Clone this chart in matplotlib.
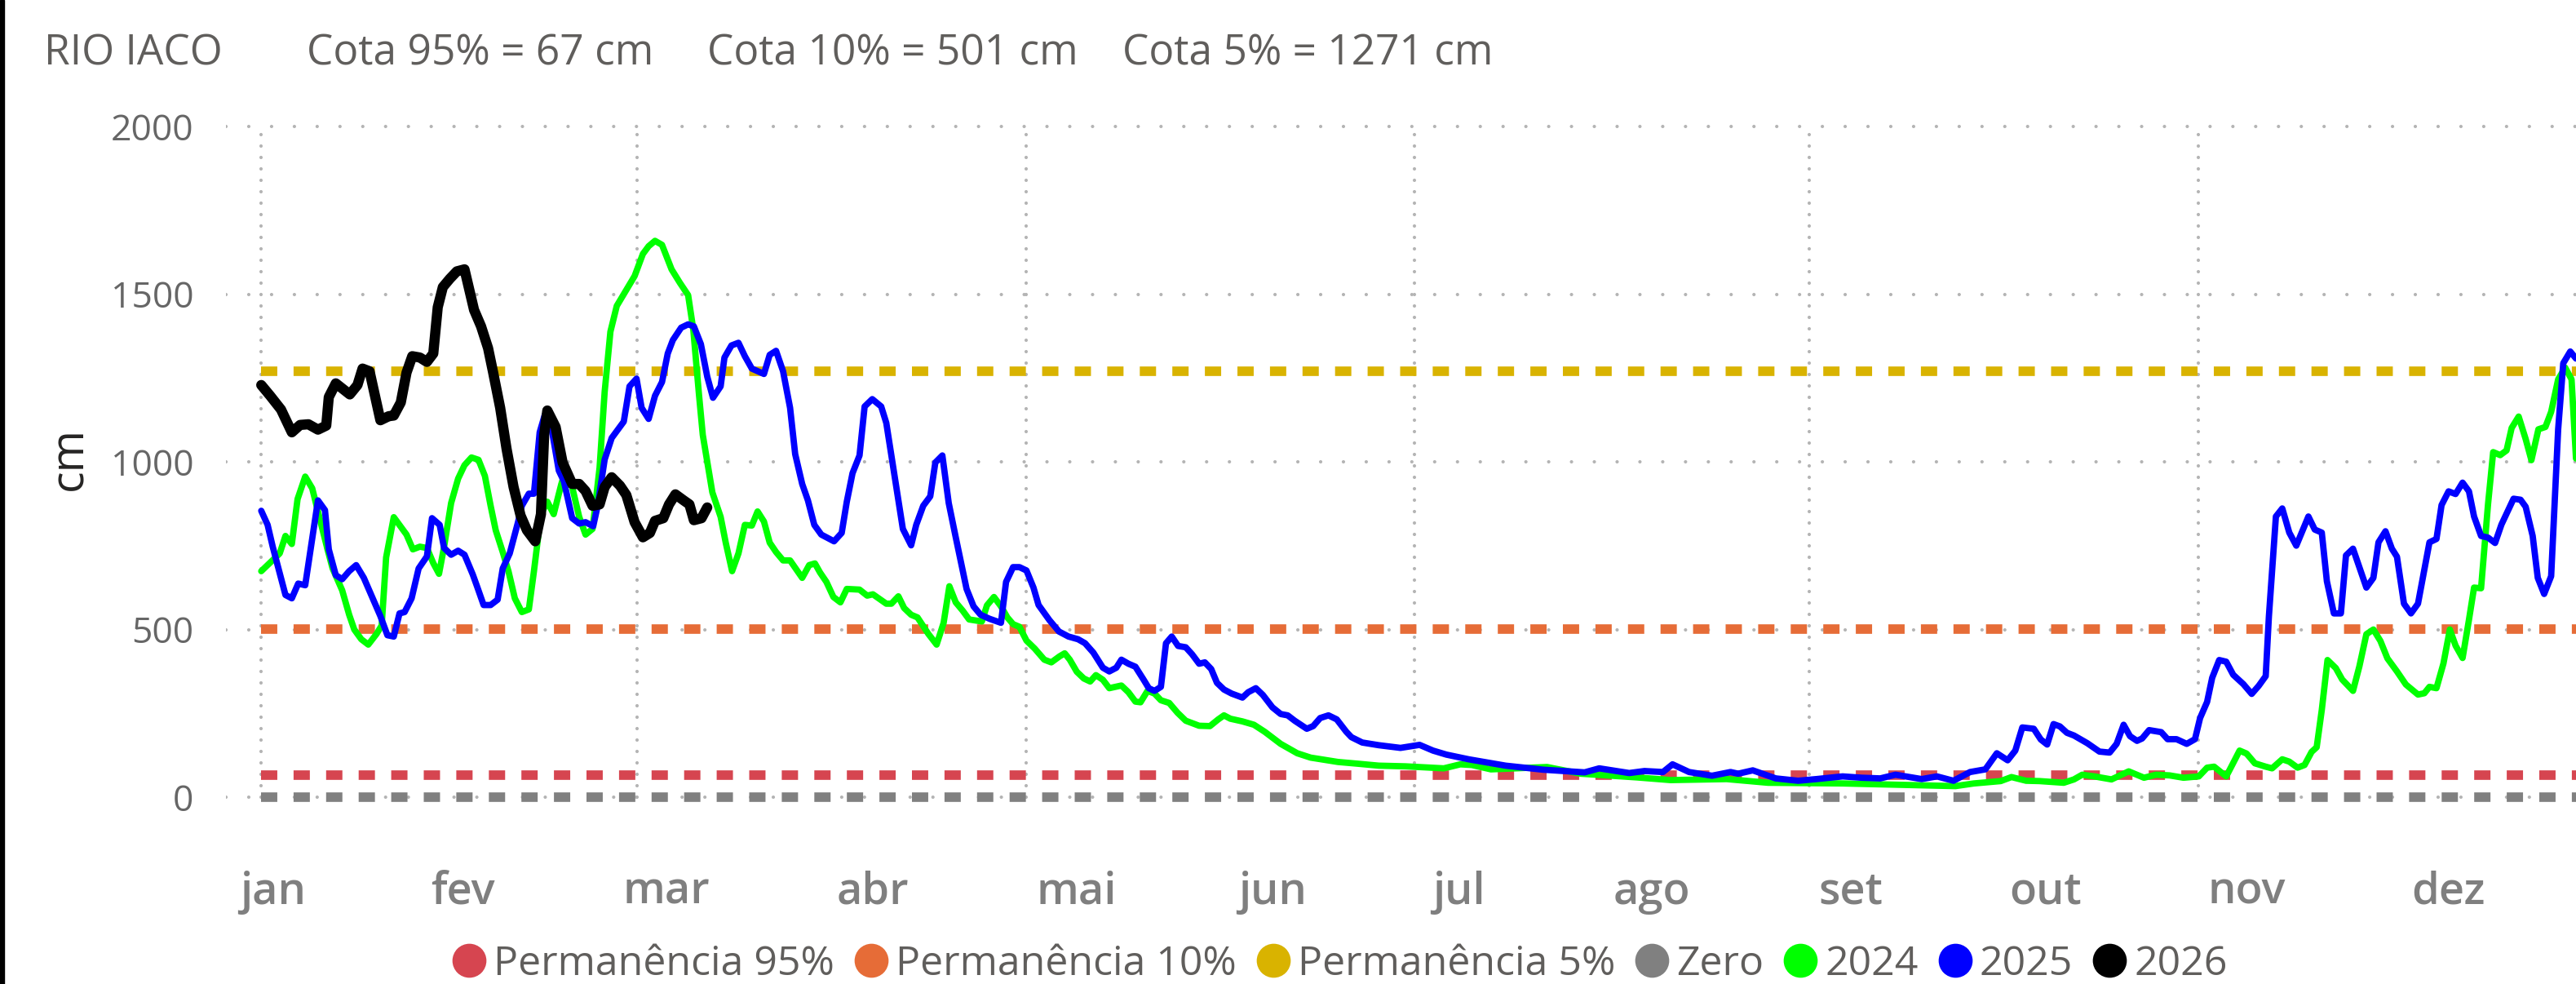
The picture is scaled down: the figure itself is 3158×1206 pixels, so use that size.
"""
Cota diaria do Rio Iaco - 2024, 2025 e 2026 com as cotas de permanencia.
Saida: out.png
"""

import matplotlib
matplotlib.use("Agg")
import matplotlib.pyplot as plt
from matplotlib import rcParams
from matplotlib.lines import Line2D
from matplotlib.patches import Rectangle

# ── Style ─────────────────────────────────────────────────────────────────────
rcParams.update({
    "font.family":      ["Open Sans", "DejaVu Sans"],
    "axes.spines.top":    False,
    "axes.spines.right":  False,
    "axes.spines.left":   False,
    "axes.spines.bottom": False,
    "figure.dpi":       100,
    "savefig.dpi":      100,
})

C_P95   = "#D64550"
C_P10   = "#E66C37"
C_P5    = "#D9B300"
C_ZERO  = "#808080"
C_2024  = "#00FF00"
C_2025  = "#0000FF"
C_2026  = "#000000"
C_GRID  = "#B4B4B4"
C_TEXT  = "#605E5C"

# ── Data ──────────────────────────────────────────────────────────────────────
STATION = "RIO IACO"
COTA_95 = 67
COTA_10 = 501
COTA_5  = 1271

MONTHS    = ["jan", "fev", "mar", "abr", "mai", "jun",
             "jul", "ago", "set", "out", "nov", "dez"]
MONTH_POS = [1.9, 31.7, 63.6, 96.0, 127.9, 158.7,
             188.0, 218.3, 249.4, 280.0, 311.6, 343.3]
GRID_DAYS = [0, 59, 120, 181, 243, 304]
Y_TICKS   = [0, 500, 1000, 1500, 2000]

# day of year (0 = 1 jan), cota in cm
DAYS_2024 = [0, 2.9, 3.8, 4.8, 5.7, 6.9, 8.0, 8.9, 10.4, 11.2, 12.7, 13.8, 14.6,
             15.7, 16.8, 18.1, 18.9, 19.6, 20.8, 22.8, 23.8, 24.9, 26.0, 27.0,
             27.9, 28.7, 29.8, 30.9, 31.9, 33.0, 34.1, 35.1, 36.0, 36.8, 37.9,
             38.8, 39.8, 40.9, 42.0, 42.8, 43.9, 44.9, 45.9, 47.1, 47.9, 48.8,
             49.9, 50.9, 52.0, 53.1, 53.9, 54.8, 55.8, 58.6, 59.9, 60.8, 61.8,
             62.9, 64.4, 65.7, 67.0, 67.8, 68.7, 69.3, 70.0, 70.8, 72.1, 72.9,
             73.9, 74.9, 75.9, 77.0, 77.9, 78.9, 79.8, 80.8, 81.9, 83.0, 84.9,
             86.0, 86.9, 87.7, 88.7, 89.8, 90.9, 91.9, 93.9, 95.1, 96.0, 98.1,
             98.9, 100.0, 100.9, 102.0, 103.0, 104.7, 106.0, 107.1, 108.0,
             109.0, 110.1, 111.1, 113.1, 113.9, 115.0, 116.1, 117.1, 118.0,
             119.0, 120.1, 121.4, 122.9, 124.0, 125.3, 126.1, 126.9, 128.0,
             129.1, 130.1, 131.0, 132.1, 133.1, 135.0, 136.1, 137.2, 138.0,
             139.1, 140.2, 141.2, 142.5, 143.8, 145.1, 147.2, 148.9, 150.2,
             151.1, 152.1, 154.0, 155.8, 157.5, 160.0, 162.6, 164.7, 169.0,
             172.0, 175.4, 179.6, 185.6, 188.2, 190.0, 193.0, 201.8, 207.1,
             215.9, 221.2, 230.0, 236.5, 248.2, 257.1, 265.9, 268.8, 273.0,
             274.7, 277.0, 279.1, 282.9, 284.5, 285.8, 287.7, 290.4, 293.1,
             295.5, 297.4, 299.5, 301.7, 304.1, 305.4, 306.5, 308.4, 309.2,
             310.5, 311.6, 312.9, 314.6, 315.6, 317.2, 318.3, 319.6, 320.7,
             321.8, 322.6, 323.4, 324.3, 325.6, 326.6, 328.3, 329.3, 330.4,
             331.5, 332.6, 333.7, 335.2, 336.6, 338.5, 339.5, 340.3, 341.4,
             342.5, 343.5, 344.4, 345.5, 346.5, 347.3, 348.4, 349.5, 350.3,
             351.4, 352.4, 353.2, 354.3, 355.4, 356.3, 357.4, 358.5, 359.4,
             360.5, 361.6, 362.6, 363.3]
CM_2024   = [674, 727, 779, 755, 889, 956, 921, 852, 739, 682, 617, 544, 500,
             471, 455, 487, 512, 715, 835, 783, 739, 747, 743, 698,
             666, 747, 877, 950, 990, 1013, 1006, 958, 869, 796, 731,
             674, 593, 552, 560, 674, 844, 881, 844, 934, 982, 925,
             836, 783, 800, 982, 1209, 1388, 1465, 1554, 1620, 1643, 1659,
             1647, 1574, 1534, 1497, 1396, 1201, 1080, 1000, 909, 836, 759,
             674, 727, 812, 810, 852, 822, 759, 731, 706, 706, 654,
             692, 697, 670, 642, 597, 581, 621, 619, 601, 605, 577,
             577, 599, 564, 544, 536, 487, 455, 520, 629,
             581, 556, 530, 524, 572, 597, 569, 536, 516,
             508, 467, 443, 410, 402, 420, 429, 410, 374,
             354, 345, 364, 350, 325, 333, 313, 285, 283,
             317, 309, 289, 281, 252, 228, 213, 212, 232,
             244, 234, 226, 216, 195, 159, 131, 118, 105,
             100, 94, 92, 86, 98, 96, 83, 90, 70,
             59, 51, 54, 43, 41, 37, 33, 41, 48,
             60, 49, 48, 43, 53, 67, 62, 53, 77,
             58, 67, 65, 58, 62, 88, 91, 62, 91,
             139, 130, 101, 91, 86, 113, 106, 88, 96,
             135, 149, 260, 409, 385, 351, 317, 390, 486,
             500, 466, 414, 375, 336, 306, 310, 329, 325,
             399, 500, 452, 415, 529, 625, 623, 875, 1029,
             1020, 1034, 1101, 1135, 1068, 1005, 1097, 1104, 1149,
             1246, 1281, 1246, 1010]

DAYS_2025 = [0, 1.0, 1.8, 3.8, 4.8, 5.8, 6.9, 8.0, 8.9, 10.0, 10.6, 11.7, 12.7,
             13.8, 14.9, 16.1, 17.4, 18.7, 19.8, 20.8, 21.7, 22.5, 23.6, 24.7,
             26.0, 26.8, 28.0, 28.7, 29.8, 30.9, 31.9, 33.2, 33.9, 34.9, 36.0,
             37.1, 37.9, 39.0, 40.3, 40.9, 42.0, 42.8, 43.7, 44.5, 45.6, 46.7,
             47.5, 48.8, 49.9, 50.9, 52.1, 52.8, 53.9, 55.0, 56.9, 57.8, 58.9,
             59.7, 60.8, 61.8, 62.9, 63.8, 64.6, 65.9, 67.0, 67.9, 69.0, 70.0,
             70.9, 72.1, 72.7, 73.8, 74.9, 75.9, 77.0, 78.9, 79.8, 80.8, 81.9,
             83.0, 83.8, 84.9, 85.8, 86.8, 87.9, 89.9, 91.1, 91.9, 92.8, 93.9,
             94.7, 95.9, 97.3, 98.1, 99.2, 100.7, 102.0, 102.8, 103.9, 105.0,
             105.8, 106.9, 107.9, 109.0, 109.9, 110.7, 111.8, 112.9, 114.3,
             116.1, 116.9, 118.0, 119.0, 120.1, 121.2, 122.0, 123.7, 125.2,
             126.7, 128.2, 129.3, 130.6, 132.1, 133.1, 134.2, 135.0, 136.1,
             137.2, 138.5, 139.3, 140.2, 141.2, 142.0, 142.9, 143.9, 145.1,
             146.1, 147.2, 148.1, 149.1, 150.0, 151.1, 152.3, 154.0, 154.9,
             156.1, 157.2, 158.7, 160.0, 161.1, 162.2, 164.1, 165.1, 166.2,
             167.5, 168.8, 170.3, 171.1, 172.8, 175.4, 178.8, 181.8, 183.9,
             186.0, 189.5, 195.3, 201.2, 207.7, 210.0, 214.7, 217.1, 220.0,
             221.5, 224.1, 227.7, 230.6, 231.8, 234.1, 237.7, 241.2, 244.1,
             248.2, 251.2, 254.1, 256.5, 260.6, 263.0, 265.6, 268.2, 270.6,
             272.4, 274.1, 275.3, 276.4, 278.2, 279.3, 280.3, 281.3, 282.3,
             283.4, 284.5, 286.6, 288.5, 290.1, 291.2, 292.3, 293.3, 294.4,
             295.2, 296.3, 298.2, 299.2, 300.6, 302.2, 303.5, 304.3, 305.4,
             306.2, 307.3, 308.4, 309.5, 311.1, 312.4, 313.5, 314.6, 315.1,
             316.2, 317.2, 318.3, 319.4, 321.3, 322.3, 323.4, 324.2, 325.3,
             326.4, 327.2, 328.3, 330.4, 331.5, 332.3, 333.4, 334.4, 335.2,
             336.3, 337.4, 338.5, 340.3, 341.4, 342.2, 343.3, 344.4, 345.5,
             346.5, 347.3, 348.4, 349.5, 350.6, 351.6, 353.5, 354.6, 355.4,
             356.5, 357.3, 358.3, 359.4, 360.5, 361.3, 362.4, 363.3]
CM_2025   = [854, 812, 747, 603, 593, 637, 632, 771, 885, 856, 739, 662, 650,
             674, 692, 654, 597, 540, 483, 479, 548, 552, 593, 682,
             718, 832, 812, 743, 723, 735, 723, 664, 627, 573, 573,
             589, 682, 727, 820, 869, 905, 905, 1088, 1140, 1096, 974,
             942, 832, 816, 820, 808, 869, 1007, 1071, 1120, 1225, 1248,
             1161, 1128, 1197, 1238, 1323, 1363, 1400, 1410, 1404, 1351, 1254,
             1191, 1225, 1311, 1347, 1355, 1315, 1278, 1262, 1319, 1331, 1270,
             1161, 1023, 934, 885, 812, 783, 763, 788, 881, 966, 1019,
             1165, 1187, 1165, 1116, 982, 800, 751, 812, 869, 897,
             998, 1019, 877, 775, 694, 621, 569, 544, 532,
             520, 642, 686, 686, 676, 625, 573, 528, 494,
             479, 471, 459, 431, 386, 375, 386, 410, 398,
             389, 350, 325, 317, 329, 459, 479, 451, 447,
             426, 398, 402, 382, 341, 321, 309, 297, 313,
             325, 305, 268, 248, 244, 228, 204, 212, 236,
             244, 232, 195, 179, 163, 155, 147, 156, 139,
             127, 113, 94, 82, 74, 86, 72, 78, 75,
             98, 75, 64, 75, 70, 80, 56, 49, 54,
             62, 58, 56, 67, 54, 62, 49, 75, 83,
             131, 110, 139, 208, 204, 172, 157, 218, 211,
             192, 184, 161, 136, 133, 159, 216, 182, 168,
             175, 200, 194, 173, 173, 159, 173, 236, 284,
             356, 409, 404, 365, 337, 308, 332, 361, 539,
             837, 861, 789, 750, 837, 798, 789, 644, 548,
             548, 721, 741, 625, 654, 760, 793, 741, 717,
             577, 548, 577, 760, 770, 871, 912, 904, 938,
             912, 837, 779, 774, 758, 813, 890, 887, 866,
             779, 654, 606, 659, 1097, 1294, 1329, 1308]

DAYS_2026 = [0, 1.4, 3.1, 4.8, 6.1, 7.4, 8.9, 10.2, 10.6, 11.7, 13.9, 15.1,
             15.9, 17.0, 18.7, 20.0, 20.8, 21.9, 22.8, 23.7, 24.9, 26.0, 27.0,
             27.7, 28.5, 29.6, 30.7, 31.9, 33.4, 34.5, 35.6, 36.4, 37.5, 38.5,
             39.6, 40.7, 41.7, 43.0, 43.9, 44.4, 44.9, 46.2, 47.3, 48.8, 49.9,
             50.9, 52.0, 53.1, 53.9, 55.0, 56.3, 57.3, 58.6, 59.9, 61.0, 61.8,
             63.1, 64.0, 65.0, 66.3, 67.2, 67.9, 69.1, 70.0]
CM_2026   = [1229, 1197, 1156, 1088, 1110, 1112, 1096, 1108, 1193, 1234, 1201,
             1229, 1278, 1270, 1124, 1136, 1138, 1177, 1266, 1315, 1311, 1298,
             1323, 1461, 1521, 1546, 1568, 1574, 1453, 1404, 1339, 1266, 1161,
             1039, 925, 840, 796, 763, 844, 1080, 1153, 1104, 998, 934, 934,
             913, 869, 873, 925, 954, 929, 901, 820, 775, 788, 824,
             832, 873, 903, 885, 873, 826, 832, 864]

# ── Figure ────────────────────────────────────────────────────────────────────
W, H = 3158, 1206
fig = plt.figure(figsize=(W / 100, H / 100))
ax  = fig.add_axes([277 / W, 1 - 1001.7 / H, 1 - 277 / W, 850.8 / H])
X_MIN, X_MAX = -5.54, 363.3
ax.set_xlim(X_MIN, X_MAX)
ax.set_ylim(-60, 2010)

# dotted grid, vertical lines only every second month
ax.hlines(Y_TICKS, X_MIN, X_MAX, colors=C_GRID, linewidths=3.0,
          linestyles=[(0, (0.01, 6.7))], capstyle="round", zorder=1)
ax.vlines(GRID_DAYS, 0, 2000, colors=C_GRID, linewidths=3.0,
          linestyles=[(0, (0.01, 3.35))], capstyle="round", zorder=1)

# permanence levels
for level, color in [(COTA_95, C_P95), (COTA_10, C_P10),
                     (COTA_5, C_P5), (0, C_ZERO)]:
    ax.hlines(level, 0, X_MAX, colors=color, linewidths=8.4,
              linestyles=[(0, (1.71, 1.71))], capstyle="butt", zorder=2)

# yearly series
for days, cm, color, lw, z in [(DAYS_2024, CM_2024, C_2024, 5.6, 3),
                               (DAYS_2025, CM_2025, C_2025, 5.6, 4),
                               (DAYS_2026, CM_2026, C_2026, 9.0, 5)]:
    ax.plot(days, cm, color=color, lw=lw, zorder=z,
            solid_joinstyle="round", solid_capstyle="round")

# ── Axes text ─────────────────────────────────────────────────────────────────
ax.set_yticks(Y_TICKS)
ax.set_yticklabels([str(v) for v in Y_TICKS])
ax.set_xticks(MONTH_POS)
ax.set_xticklabels(MONTHS, fontweight="semibold")
ax.tick_params(axis="y", length=0, pad=28.6, labelsize=32, labelcolor="#666666")
ax.tick_params(axis="x", length=0, pad=47, labelsize=39, labelcolor="#7F7F7F")

fig.text(86 / W, 1 - 562 / H, "cm", rotation=90, ha="center", va="center",
         fontsize=40, color="#252423")

# title pieces
for x_px, txt in [(54.5, STATION),
                  (375.8, f"Cota 95% = {COTA_95} cm"),
                  (866.7, f"Cota 10% = {COTA_10} cm"),
                  (1375.8, f"Cota 5% = {COTA_5} cm")]:
    fig.text(x_px / W, 1 - 80 / H, txt, ha="left", va="baseline",
             fontsize=37, color=C_TEXT)

# ── Legend ────────────────────────────────────────────────────────────────────
labels  = ["Permanência 95%", "Permanência 10%", "Permanência 5%", "Zero",
           "2024", "2025", "2026"]
colors  = [C_P95, C_P10, C_P5, C_ZERO, C_2024, C_2025, C_2026]
handles = [Line2D([], [], ls="none", marker="o", markersize=29,
                  markerfacecolor=c, markeredgecolor=c) for c in colors]
fig.legend(handles, labels, ncol=7, loc="center",
           bbox_to_anchor=(1643 / W, 1 - 1182 / H), frameon=False,
           fontsize=36, labelcolor=C_TEXT, handlelength=0.8,
           handletextpad=0.2, columnspacing=0.5, borderpad=0, borderaxespad=0)

# thin dark frame on the left edge
fig.add_artist(Rectangle((0, 0), 5 / W, 1, transform=fig.transFigure,
                         color="black", zorder=10))

fig.savefig("out.png")
plt.close(fig)
